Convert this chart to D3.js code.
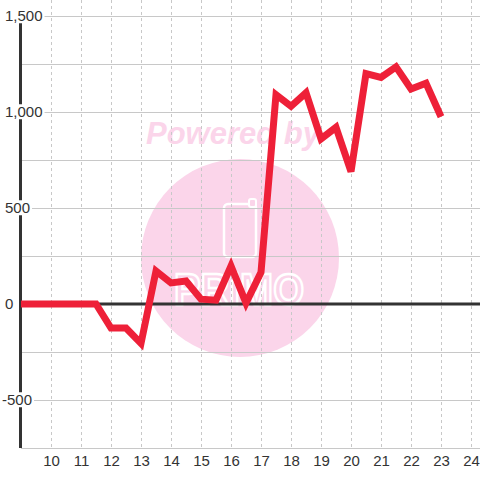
<!DOCTYPE html>
<html>
<head>
<meta charset="utf-8">
<script src="https://cdn.jsdelivr.net/npm/d3@7"></script>
<style>
  html, body { margin: 0; padding: 0; background: #ffffff; }
  svg { display: block; font-family: "Liberation Sans", Arial, sans-serif; }
</style>
</head>
<body>
<svg id="chart" width="480" height="480"></svg>
<script>
// ---- data ----
const times = [9, 9.5, 10, 10.5, 11, 11.5, 12, 12.5, 13, 13.5, 14, 14.5, 15, 15.5, 16, 16.5, 17, 17.5, 18, 18.5, 19, 19.5, 20, 20.5, 21, 21.5, 22, 22.5, 23];
const values = [0, 0, 0, 0, 0, 0, -125, -125, -205, 172, 110, 120, 25, 20, 198, 5, 165, 1090, 1030, 1100, 860, 920, 690, 1200, 1180, 1235, 1120, 1150, 975];
const xTicks = [10, 11, 12, 13, 14, 15, 16, 17, 18, 19, 20, 21, 22, 23, 24];
const yLabelTicks = [-500, 0, 500, 1000, 1500];
const yGridTicks = [-750, -500, -250, 250, 500, 750, 1000, 1250, 1500];
const watermarkText = "Powered by";
const logoText = "PRiMO";

const svg = d3.select("#chart");
const W = 480, H = 480;
const x = d3.scaleLinear().domain([9, 24.3]).range([21, 480]);
const y = d3.scaleLinear().domain([-750, 1500]).range([448, 16]);

// ---- watermark ----
const wm = svg.append("g");
wm.append("text")
  .attr("x", 233).attr("y", 144)
  .attr("text-anchor", "middle")
  .attr("font-size", 31).attr("font-weight", "bold").attr("font-style", "italic")
  .attr("fill", "#fbd5ea")
  .text(watermarkText);
wm.append("circle").attr("cx", 240).attr("cy", 258).attr("r", 99).attr("fill", "#fbd5ea");
wm.append("rect").attr("x", 224).attr("y", 204).attr("width", 32).attr("height", 53).attr("rx", 4)
  .attr("fill", "none").attr("stroke", "#ffffff").attr("stroke-width", 2.5);
wm.append("rect").attr("x", 249).attr("y", 199).attr("width", 7).attr("height", 8).attr("rx", 2)
  .attr("fill", "#fbd5ea").attr("stroke", "#ffffff").attr("stroke-width", 2);
wm.append("text")
  .attr("x", 174).attr("y", 305)
  .attr("font-size", 44).attr("font-weight", "bold")
  .attr("textLength", 130).attr("lengthAdjust", "spacingAndGlyphs")
  .attr("fill", "none").attr("stroke", "#ffffff").attr("stroke-width", 2.5)
  .text(logoText);

// ---- grid ----
const grid = svg.append("g");
grid.selectAll("line.v").data(xTicks).join("line")
  .attr("x1", d => x(d)).attr("x2", d => x(d))
  .attr("y1", 0).attr("y2", y(-750))
  .attr("stroke", "#c8c8c8").attr("stroke-width", 1).attr("stroke-dasharray", "3,3")
  .attr("shape-rendering", "crispEdges");
grid.selectAll("line.h").data(yGridTicks).join("line")
  .attr("x1", x(9)).attr("x2", W)
  .attr("y1", d => y(d)).attr("y2", d => y(d))
  .attr("stroke", "#c8c8c8").attr("stroke-width", 1)
  .attr("shape-rendering", "crispEdges");

// ---- zero line & left axis ----
svg.append("line")
  .attr("x1", x(9)).attr("x2", W).attr("y1", y(0)).attr("y2", y(0))
  .attr("stroke", "#333333").attr("stroke-width", 3);
svg.append("line")
  .attr("x1", 20.5).attr("x2", 20.5).attr("y1", y(1500)).attr("y2", y(-750))
  .attr("stroke", "#333333").attr("stroke-width", 3);

// ---- data line ----
const line = d3.line().x((d, i) => x(times[i])).y(d => y(d));
svg.append("path")
  .datum(values)
  .attr("d", line)
  .attr("fill", "none")
  .attr("stroke", "#ee2038")
  .attr("stroke-width", 7)
  .attr("stroke-linejoin", "miter")
  .attr("stroke-linecap", "butt");

// ---- y labels with white background ----
const fmt = v => d3.format(",")(v).replace("\u2212", "-");
const yl = svg.append("g");
yLabelTicks.forEach(v => {
  const g = yl.append("g");
  const t = g.append("text")
    .attr("x", v < 0 ? 2 : 5).attr("y", y(v)).attr("dy", "0.35em")
    .attr("font-size", 15).attr("fill", "#333333")
    .text(fmt(v));
  const bb = t.node().getBBox();
  g.insert("rect", "text")
    .attr("x", bb.x - 1).attr("y", bb.y + 1)
    .attr("width", bb.width + 3).attr("height", bb.height - 2)
    .attr("fill", "#ffffff");
});

// ---- x axis labels ----
const xAxis = d3.axisBottom(x).tickValues(xTicks).tickSize(0).tickPadding(0).tickFormat(d3.format("d"));
const xg = svg.append("g").attr("transform", `translate(0, ${y(-750) + 6})`).call(xAxis);
xg.select(".domain").remove();
xg.selectAll("text").attr("font-size", 15).attr("fill", "#333333")
  .attr("font-family", "Liberation Sans, Arial, sans-serif").attr("dy", "0.8em");
</script>
</body>
</html>
